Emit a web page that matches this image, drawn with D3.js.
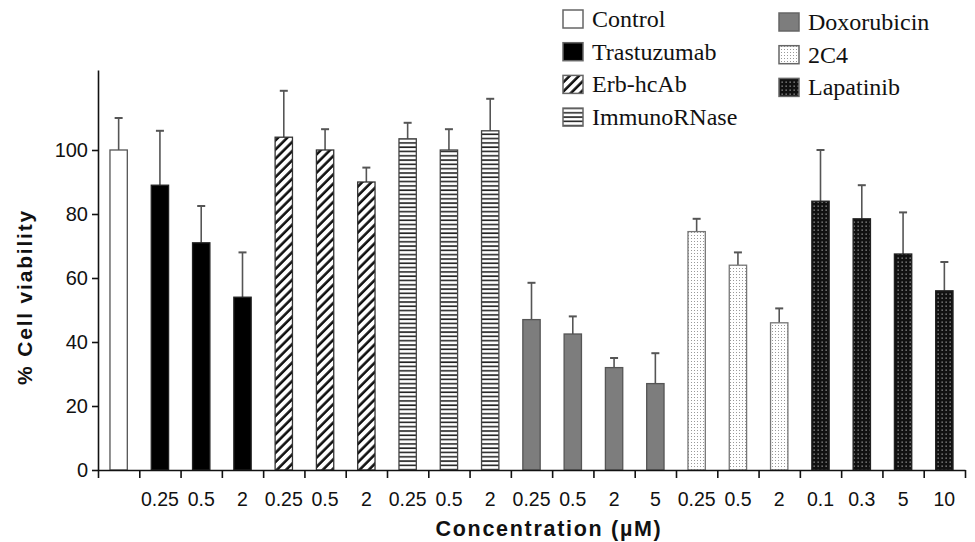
<html lang="en">
<head>
    <meta charset="UTF-8">
    <title>Cell viability</title>
    <script src="https://cdnjs.cloudflare.com/ajax/libs/d3/7.8.5/d3.min.js"></script>
    <style type="text/css">
        body { margin: 0; background: #fff; }
        svg text { font-family: "Liberation Sans", Arial, sans-serif; }
        .legend text { font-family: "Liberation Serif", "Times New Roman", serif; }
    </style>
</head>
<body>
    <div id="onlydiv"></div>
    <script type="text/javascript">

        // Data
        var groups = ["Control", "Trastuzumab", "Erb-hcAb", "ImmunoRNase", "Doxorubicin", "2C4", "Lapatinib"];
        var barGroup = [0, 1, 1, 1, 2, 2, 2, 3, 3, 3, 4, 4, 4, 4, 5, 5, 5, 6, 6, 6, 6];
        var doseLabels = ["", "0.25", "0.5", "2", "0.25", "0.5", "2", "0.25", "0.5", "2", "0.25", "0.5", "2", "5", "0.25", "0.5", "2", "0.1", "0.3", "5", "10"];
        var viability = [100, 89, 71, 54, 104, 100, 90, 103.5, 100, 106, 47, 42.5, 32, 27, 74.5, 64, 46, 84, 78.5, 67.5, 56];
        var sd = [10, 17, 11.5, 14, 14.5, 6.5, 4.5, 5, 6.5, 10, 11.5, 5.5, 3, 9.5, 4, 4, 4.5, 16, 10.5, 13, 9];
        var yTicks = [0, 20, 40, 60, 80, 100];

        var w = 975;
        var h = 542;
        var plotLeft = 98, plotRight = 965, plotTop = 70, plotBottom = 470;

        var svg = d3.select("#onlydiv")
        .append("svg")
        .attr("width", w)
        .attr("height", h);

        // Patterns
        var defs = svg.append("defs");

        var hatch = defs.append("pattern")
        .attr("id", "hatch")
        .attr("patternUnits", "userSpaceOnUse")
        .attr("width", 6.5).attr("height", 6.5)
        .attr("patternTransform", "rotate(45)");
        hatch.append("rect").attr("width", 6.5).attr("height", 6.5).attr("fill", "#fff");
        hatch.append("line").attr("x1", 1.5).attr("x2", 1.5).attr("y1", 0).attr("y2", 6.5)
        .attr("stroke", "#111").attr("stroke-width", 2.6);

        var hlines = defs.append("pattern")
        .attr("id", "hlines")
        .attr("patternUnits", "userSpaceOnUse")
        .attr("width", 8).attr("height", 4.3);
        hlines.append("rect").attr("width", 8).attr("height", 4.3).attr("fill", "#fff");
        hlines.append("line").attr("x1", 0).attr("x2", 8).attr("y1", 1).attr("y2", 1)
        .attr("stroke", "#222").attr("stroke-width", 1.6);

        var dots = defs.append("pattern")
        .attr("id", "dots")
        .attr("patternUnits", "userSpaceOnUse")
        .attr("width", 3).attr("height", 3);
        dots.append("rect").attr("width", 3).attr("height", 3).attr("fill", "#fff");
        dots.append("rect").attr("x", 1).attr("y", 1).attr("width", 1).attr("height", 1).attr("fill", "#999");

        var darkdots = defs.append("pattern")
        .attr("id", "darkdots")
        .attr("patternUnits", "userSpaceOnUse")
        .attr("width", 4).attr("height", 4);
        darkdots.append("rect").attr("width", 4).attr("height", 4).attr("fill", "#111");
        darkdots.append("rect").attr("x", 1.5).attr("y", 1.5).attr("width", 1.3).attr("height", 1.3).attr("fill", "#999");

        var groupFill = ["#fff", "#000", "url(#hatch)", "url(#hlines)", "#7d7d7d", "url(#dots)", "url(#darkdots)"];
        var groupStroke = ["#555", "#222", "#333", "#444", "#555", "#777", "#222"];

        // Scales
        var idx = d3.range(viability.length);

        var xBand = d3.scaleBand()
        .domain(idx)
        .range([plotLeft, plotRight]);

        var xEdge = d3.scaleLinear()
        .domain([0, idx.length])
        .range([plotLeft, plotRight]);

        var yScale = d3.scaleLinear()
        .domain([0, 125])
        .range([plotBottom, plotTop]);

        var barW = xBand.bandwidth() * 0.42;

        // Error bars (upper only)
        var err = svg.append("g").attr("stroke", "#555").attr("stroke-width", 1.6);
        idx.forEach(function(i) {
            var cx = xBand(i) + xBand.bandwidth() / 2;
            err.append("line")
            .attr("x1", cx).attr("x2", cx)
            .attr("y1", yScale(viability[i])).attr("y2", yScale(viability[i] + sd[i]));
            err.append("line")
            .attr("x1", cx - 4).attr("x2", cx + 4)
            .attr("y1", yScale(viability[i] + sd[i])).attr("y2", yScale(viability[i] + sd[i]))
            .attr("stroke-width", 2);
        });

        // Bars
        svg.selectAll("rect.bar")
        .data(idx)
        .enter()
        .append("rect")
        .attr("class", "bar")
        .attr("x", function(i) {return xBand(i) + (xBand.bandwidth() - barW) / 2;})
        .attr("y", function(i) {return yScale(viability[i]);})
        .attr("width", barW)
        .attr("height", function(i) {return yScale(0) - yScale(viability[i]);})
        .attr("fill", function(i) {return groupFill[barGroup[i]];})
        .attr("stroke", function(i) {return groupStroke[barGroup[i]];})
        .attr("stroke-width", 1.3);

        // Axes
        var yAxis = d3.axisLeft(yScale)
        .tickValues(yTicks)
        .tickSize(6)
        .tickPadding(4)
        .tickSizeOuter(0);

        var gy = svg.append("g")
        .attr("transform", "translate(" + plotLeft + ",0)")
        .call(yAxis);
        gy.selectAll("text").attr("font-size", 20).attr("fill", "#111");

        var xLabels = d3.axisBottom(xBand)
        .tickFormat(function(i) {return doseLabels[i];})
        .tickSize(0)
        .tickPadding(22);

        var gx = svg.append("g")
        .attr("transform", "translate(0," + plotBottom + ")")
        .call(xLabels);
        gx.select(".domain").remove();
        gx.selectAll("text").attr("font-size", 19.5).attr("fill", "#111");

        var xTicks = d3.axisBottom(xEdge)
        .tickValues(d3.range(idx.length + 1))
        .tickFormat("")
        .tickSize(8)
        .tickSizeOuter(0);

        svg.append("g")
        .attr("transform", "translate(0," + plotBottom + ")")
        .call(xTicks);

        svg.selectAll(".domain, .tick line")
        .attr("stroke", "#111")
        .attr("stroke-width", 1.6);

        // Axis titles
        svg.append("text")
        .attr("text-anchor", "middle")
        .attr("x", 549)
        .attr("y", 536)
        .attr("font-weight", "bold")
        .attr("font-size", 21.5)
        .attr("letter-spacing", 1.7)
        .attr("fill", "#111")
        .text("Concentration (\u00b5M)");

        svg.append("text")
        .attr("text-anchor", "middle")
        .attr("transform", "translate(32,297) rotate(-90)")
        .attr("font-weight", "bold")
        .attr("font-size", 21)
        .attr("letter-spacing", 1.8)
        .attr("fill", "#111")
        .text("% Cell viability");

        // Legend
        var legend = svg.append("g").attr("class", "legend");
        groups.forEach(function(g, k) {
            var col = k < 4 ? 0 : 1;
            var row = k < 4 ? k : k - 4;
            var lx = col === 0 ? 563 : 779;
            var ly = (col === 0 ? 19 : 22) + row * 32.7;
            legend.append("rect")
            .attr("x", lx).attr("y", ly - 9)
            .attr("width", 20).attr("height", 18)
            .attr("fill", groupFill[k])
            .attr("stroke", "#666")
            .attr("stroke-width", 1.5);
            legend.append("text")
            .attr("x", lx + 29)
            .attr("y", ly + 8)
            .attr("font-size", 24)
            .attr("fill", "#111")
            .text(g);
        });

    </script>
</body>
</html>
